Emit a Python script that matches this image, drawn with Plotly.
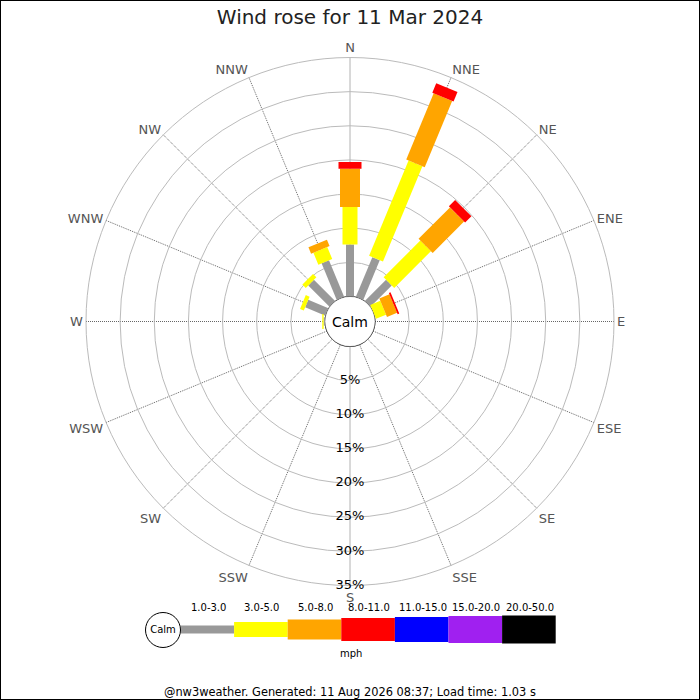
import plotly.graph_objects as go

directions = ['N', 'NNE', 'NE', 'ENE', 'E', 'ESE', 'SE', 'SSE',
              'S', 'SSW', 'SW', 'WSW', 'W', 'WNW', 'NW', 'NNW']
angles = [i * 22.5 for i in range(16)]

speed_bins = ['1.0-3.0', '3.0-5.0', '5.0-8.0', '8.0-11.0',
              '11.0-15.0', '15.0-20.0', '20.0-50.0']
bin_colors = ['#999999', '#ffff00', '#ffa500', '#ff0000',
              '#0000ff', '#a020f0', '#000000']
bin_widths = [8, 15, 20, 23, 25, 27, 28]

# percent of time in each speed bin, per direction (N .. NNW)
pct_1_3 = [7.6, 6.3, 4.4, 0.0, 0, 0, 0, 0, 0, 0, 0, 0, 0.2, 3.2, 4.4, 5.8]
pct_3_5 = [5.5, 15.1, 7.6, 1.6, 0, 0, 0, 0, 0, 0, 0, 0, 0.2, 0.6, 0.7, 1.9]
pct_5_8 = [5.6, 10.5, 6.5, 1.6, 0, 0, 0, 0, 0, 0, 0, 0, 0, 0, 0, 1.0]
pct_8_11 = [1.0, 1.5, 1.3, 0.25, 0, 0, 0, 0, 0, 0, 0, 0, 0, 0, 0, 0]
pct_11_15 = [0] * 16
pct_15_20 = [0] * 16
pct_20_50 = [0] * 16
series = [pct_1_3, pct_3_5, pct_5_8, pct_8_11, pct_11_15, pct_15_20, pct_20_50]

radial_ticks = [5, 10, 15, 20, 25, 30, 35]

title_text = 'Wind rose for 11 Mar 2024'
footer_text = '@nw3weather. Generated: 11 Aug 2026 08:37; Load time: 1.03 s'

fig = go.Figure()

# calm circle round the hole
fig.add_trace(go.Scatterpolar(
    r=[0] * 361, theta=list(range(361)), mode='lines',
    line=dict(color='black', width=1), cliponaxis=False,
    hoverinfo='skip', showlegend=False,
))

# stacked bars, one thick line per segment
base = [0.0] * 16
for vals, col, w in zip(series, bin_colors, bin_widths):
    for i in range(16):
        if vals[i] > 0:
            fig.add_trace(go.Scatterpolar(
                r=[base[i], base[i] + vals[i]], theta=[angles[i], angles[i]],
                mode='lines', line=dict(color=col, width=w),
                cliponaxis=False, hoverinfo='skip', showlegend=False,
            ))
        base[i] += vals[i]

# percentage labels down the south spoke
fig.add_trace(go.Scatterpolar(
    r=radial_ticks, theta=[180] * len(radial_ticks),
    mode='text',
    text=[f'{t}%' for t in radial_ticks], textposition='middle center',
    textfont=dict(size=13, color='black'), cliponaxis=False,
    hoverinfo='skip', showlegend=False,
))

# legend strip along the bottom
seg = 53.6
x_start = 180.5
for k, (lab, col, w) in enumerate(zip(speed_bins, bin_colors, bin_widths)):
    x0 = x_start + k * seg
    fig.add_trace(go.Scatter(
        x=[x0, x0 + seg], y=[70.5, 70.5], mode='lines',
        line=dict(color=col, width=w), hoverinfo='skip', showlegend=False,
        xaxis='x', yaxis='y',
    ))
    fig.add_annotation(x=x0 + seg / 2 + 1, y=93, text=lab, showarrow=False,
                       yanchor='middle',
                       font=dict(size=10, color='black'), xref='x', yref='y')

fig.add_trace(go.Scatter(
    x=[163], y=[70], mode='markers+text', text=['Calm'],
    textposition='middle center', textfont=dict(size=10, color='black'),
    marker=dict(size=35, color='white', line=dict(color='black', width=1)),
    hoverinfo='skip', showlegend=False,
))
fig.add_annotation(x=351, y=47, text='mph', showarrow=False, yanchor='middle',
                   font=dict(size=10, color='black'), xref='x', yref='y')

fig.add_annotation(x=0.5, y=1 - 321.5 / 700, xref='paper', yref='paper',
                   text='Calm', showarrow=False, yanchor='middle',
                   font=dict(size=14, color='black'))
fig.add_annotation(x=0.5, y=1 - 692 / 700, xref='paper', yref='paper',
                   text=footer_text, showarrow=False, yanchor='middle',
                   font=dict(size=11.4, color='black'))

fig.add_shape(type='rect', xref='paper', yref='paper', x0=0, y0=0, x1=1, y1=1,
              line=dict(color='black', width=2))

R = 264
cx, cy = 350, 321.5
fig.update_layout(
    width=700, height=700,
    margin=dict(l=0, r=0, t=0, b=0),
    paper_bgcolor='white', plot_bgcolor='white',
    font=dict(family='DejaVu Sans', color='black'),
    title=dict(text=title_text, x=0.5, xanchor='center', y=1 - 17 / 700,
               yanchor='middle', font=dict(size=20, color='#222222')),
    polar=dict(
        domain=dict(x=[(cx - R) / 700, (cx + R) / 700],
                    y=[1 - (cy + R) / 700, 1 - (cy - R) / 700]),
        hole=25 / R,
        bgcolor='white',
        radialaxis=dict(range=[0, 35], tickvals=radial_ticks,
                        showticklabels=False, ticks='', showline=False,
                        gridcolor='#bbbbbb', gridwidth=1, layer='below traces'),
        angularaxis=dict(rotation=90, direction='clockwise',
                         tickmode='array', tickvals=angles, ticktext=directions,
                         ticks='', showline=True, linecolor='#bbbbbb',
                         gridcolor='#666666', griddash='1px,1px', gridwidth=1,
                         tickfont=dict(size=13, color='#555555'),
                         layer='below traces'),
    ),
    xaxis=dict(domain=[0, 1], range=[0, 700], visible=False, fixedrange=True),
    yaxis=dict(domain=[0, 0.2], range=[0, 140], visible=False, fixedrange=True),
)

fig.write_html('out.html', config={'displayModeBar': False},
               post_script="document.body.style.margin='0';")
